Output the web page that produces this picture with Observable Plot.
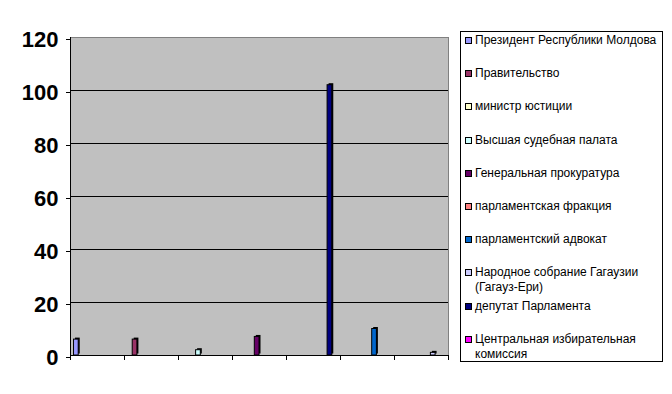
<!DOCTYPE html>
<html>
<head>
<meta charset="utf-8">
<script src="https://cdn.jsdelivr.net/npm/d3@7"></script>
<script src="https://cdn.jsdelivr.net/npm/@observablehq/plot@0.6"></script>
<style>
  html, body { margin: 0; padding: 0; background: #fff; }
  #wrap { position: relative; width: 672px; height: 394px; overflow: hidden; }
  #legend { position: absolute; left: 460px; top: 31px; width: 201px; height: 329px; border: 1px solid #000; background: #fff; box-sizing: content-box; }
  .item { position: absolute; left: 4px; font-family: "Liberation Sans", Arial, sans-serif; font-size: 12px; line-height: 15px; color: #000; width: 195px; }
  .sw { position: absolute; left: 0; top: 4px; width: 5px; height: 5px; border: 1px solid #000; }
  .lbl { margin-left: 10px; display: block; }
</style>
</head>
<body>
<div id="wrap"><div id="chart"></div><div id="legend"></div></div>
<script>
// Categories (unlabeled groups on the x axis)
const categories = ["1", "2", "3", "4", "5", "6", "7"];

// Series names (legend order)
const seriesNames = [
  "Президент Республики Молдова",
  "Правительство",
  "министр юстиции",
  "Высшая судебная палата",
  "Генеральная прокуратура",
  "парламентская фракция",
  "парламентский адвокат",
  "Народное собрание Гагаузии (Гагауз-Ери)",
  "депутат Парламента",
  "Центральная избирательная комиссия"
];
const seriesColors = ["#9999FF", "#993366", "#FFFFCC", "#CCFFFF", "#660066", "#FF8080", "#0066CC", "#CCCCFF", "#000080", "#FF00FF"];

// Values per series across the 7 categories
const president   = [6, 0, 0, 0, 0, 0, 0];
const government  = [0, 6, 0, 0, 0, 0, 0];
const justiceMin  = [0, 0, 0, 0, 0, 0, 0];
const supremeCourt= [0, 0, 2, 0, 0, 0, 0];
const prosecutor  = [0, 0, 0, 7, 0, 0, 0];
const faction     = [0, 0, 0, 0, 0, 0, 0];
const advocate    = [0, 0, 0, 0, 0, 10, 0];
const gagauzia    = [0, 0, 0, 0, 0, 0, 1];
const deputy      = [0, 0, 0, 0, 102, 0, 0];
const cec         = [0, 0, 0, 0, 0, 0, 0];
const yTicks = [0, 20, 40, 60, 80, 100, 120];

const seriesValues = [president, government, justiceMin, supremeCourt, prosecutor, faction, advocate, gagauzia, deputy, cec];
const data = [];
seriesValues.forEach((vals, s) => vals.forEach((v, c) => {
  if (v > 0) data.push({category: categories[c], series: seriesNames[s], value: v});
}));

const plot = Plot.plot({
  width: 672,
  height: 394,
  marginLeft: 70,
  marginRight: 224,
  marginTop: 37,
  marginBottom: 39,
  style: {background: "transparent", fontFamily: "'Liberation Sans', Arial, sans-serif"},
  fx: {domain: categories, paddingInner: 0, paddingOuter: 0, round: false, axis: null, label: null},
  x: {domain: seriesNames, paddingInner: 0, paddingOuter: 0.75, round: false, axis: null, label: null},
  y: {domain: [0, 120], label: null, axis: null},
  color: {domain: seriesNames, range: seriesColors},
  marks: [
    Plot.frame({fill: "#C0C0C0", stroke: "#808080", facet: "super"}),
    Plot.ruleY(yTicks.filter(d => d > 0 && d < 120), {stroke: "#000", strokeWidth: 1}),
    Plot.barY(data, {fx: "category", x: "series", y: "value", fill: "#000", dx: 1.5, dy: -1.5}),
    Plot.barY(data, {fx: "category", x: "series", y: "value", fill: "series", stroke: "#000", strokeWidth: 1}),
    Plot.axisY({ticks: yTicks, tickSize: 4, tickPadding: 8, tickFormat: d => d, fontSize: 22, fontWeight: "bold", dy: 2, stroke: "#000", label: null})
  ]
});
document.getElementById("chart").appendChild(plot);

// axis lines and category boundary ticks from Plot's scales
const fx = plot.scale("fx");
const y = plot.scale("y");
const svg = d3.select(plot);
const y0 = y.apply(0), yTop = y.apply(120);
const left = fx.apply(categories[0]);
const right = fx.apply(categories[categories.length - 1]) + fx.bandwidth;
const g = svg.append("g").attr("stroke", "#000").attr("stroke-width", 1);
g.append("line").attr("x1", left + 0.5).attr("x2", left + 0.5).attr("y1", yTop).attr("y2", y0);
g.append("line").attr("x1", left).attr("x2", right).attr("y1", y0 + 0.5).attr("y2", y0 + 0.5);
const bounds = categories.map(c => fx.apply(c)).concat([right]);
bounds.forEach(b => {
  g.append("line").attr("x1", b + 0.5).attr("x2", b + 0.5).attr("y1", y0).attr("y2", y0 + 5);
});

// legend
const legend = document.getElementById("legend");
seriesNames.forEach((name, i) => {
  const it = document.createElement("div");
  it.className = "item";
  it.style.top = (1 + i * 33.2) + "px";
  const sw = document.createElement("span");
  sw.className = "sw";
  sw.style.background = seriesColors[i];
  const lb = document.createElement("span");
  lb.className = "lbl";
  lb.textContent = name;
  it.appendChild(sw); it.appendChild(lb);
  legend.appendChild(it);
});
</script>
</body>
</html>
